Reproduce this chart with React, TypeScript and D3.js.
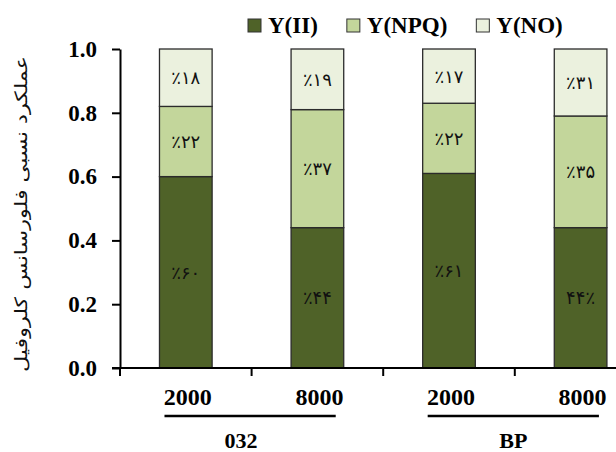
import React, { useEffect, useRef } from 'react';
import * as d3 from 'd3';

const categories = ['032-2000', '032-8000', 'BP-2000', 'BP-8000'];
const doseLabels = ['2000', '8000', '2000', '8000'];
const groups = ['032', 'BP'];
const groupMembers = [['032-2000', '032-8000'], ['BP-2000', 'BP-8000']];

const seriesNames = ['Y(II)', 'Y(NPQ)', 'Y(NO)'];
const seriesColors = ['#4f6228', '#c3d69b', '#ebf1de'];

const yII = [0.60, 0.44, 0.61, 0.44];
const yNPQ = [0.22, 0.37, 0.22, 0.35];
const yNO = [0.18, 0.19, 0.17, 0.21];

// labels as printed in the figure
const labelsII = ['٪۶۰', '٪۴۴', '٪۶۱', '۴۴٪'];
const labelsNPQ = ['٪۲۲', '٪۳۷', '٪۲۲', '٪۳۵'];
const labelsNO = ['٪۱۸', '٪۱۹', '٪۱۷', '٪۳۱'];

const yTicks = [0, 0.2, 0.4, 0.6, 0.8, 1.0];
const yTitle = 'عملکرد نسبی فلورسانس کلروفیل';

const W = 616;
const H = 452;
const serif = 'Liberation Serif, Tinos, Times New Roman, serif';
const persian = 'DejaVu Sans, sans-serif';

export default function App() {
  const svgRef = useRef<SVGSVGElement>(null);

  useEffect(() => {
    if (!svgRef.current) return;
    const svg = d3.select(svgRef.current);
    svg.selectAll('*').remove();

    const left = 120;
    const step = 131.6;
    const x = d3.scaleBand<string>()
      .domain(categories)
      .range([left, left + step * categories.length])
      .paddingInner(0.6)
      .paddingOuter(0.3);
    const y = d3.scaleLinear().domain([0, 1]).range([368, 49]);

    const labels = [labelsII, labelsNPQ, labelsNO];
    const rows = categories.map((c, i) => ({ cat: c, II: yII[i], NPQ: yNPQ[i], NO: yNO[i] }));
    const stacked = d3.stack<any>().keys(['II', 'NPQ', 'NO'])(rows);

    // bars
    stacked.forEach((layer, si) => {
      const g = svg.append('g');
      g.selectAll('rect')
        .data(layer)
        .enter()
        .append('rect')
        .attr('x', (d: any) => x(d.data.cat)!)
        .attr('width', x.bandwidth())
        .attr('y', (d: any) => y(d[1]))
        .attr('height', (d: any) => y(d[0]) - y(d[1]))
        .attr('fill', seriesColors[si])
        .attr('stroke', '#2b2b2b')
        .attr('stroke-width', 1.3);
      g.selectAll('text')
        .data(layer)
        .enter()
        .append('text')
        .attr('x', (d: any) => x(d.data.cat)! + x.bandwidth() / 2)
        .attr('y', (d: any) => (y(d[0]) + y(d[1])) / 2)
        .attr('text-anchor', 'middle')
        .attr('dominant-baseline', 'central')
        .style('font-family', persian)
        .style('font-size', '18px')
        .attr('fill', '#111')
        .text((d: any, i: number) => labels[si][i]);
    });

    // y axis
    const yAxis = svg.append('g')
      .attr('transform', `translate(${left},0)`)
      .call(
        d3.axisLeft(y)
          .tickValues(yTicks)
          .tickFormat(d3.format('.1f'))
          .tickSize(8)
          .tickSizeOuter(0)
          .tickPadding(15)
      );
    yAxis.attr('font-family', null).attr('font-size', null);
    yAxis.select('.domain').attr('stroke', '#000').attr('stroke-width', 2);
    yAxis.selectAll('.tick line').attr('stroke', '#000').attr('stroke-width', 2);
    yAxis.selectAll('.tick text')
      .style('font-family', serif)
      .style('font-weight', 'bold')
      .style('font-size', '23px')
      .attr('fill', '#000');

    // x axis line and ticks at band boundaries
    const xEnd = left + step * categories.length;
    svg.append('line')
      .attr('x1', left - 8).attr('x2', xEnd)
      .attr('y1', y(0)).attr('y2', y(0))
      .attr('stroke', '#000').attr('stroke-width', 2);
    const gap = (x.step() - x.bandwidth()) / 2;
    const bounds = categories.map((c) => x(c)! - gap);
    svg.append('g').selectAll('line')
      .data(bounds)
      .enter()
      .append('line')
      .attr('x1', (d) => d).attr('x2', (d) => d)
      .attr('y1', y(0)).attr('y2', y(0) + 8)
      .attr('stroke', '#000').attr('stroke-width', 2);

    // dose labels
    svg.append('g').selectAll('text')
      .data(categories)
      .enter()
      .append('text')
      .attr('x', (c) => x(c)! + x.bandwidth() / 2 + 2)
      .attr('y', 405)
      .attr('text-anchor', 'middle')
      .style('font-family', serif)
      .style('font-weight', 'bold')
      .style('font-size', '24px')
      .text((c, i) => doseLabels[i]);

    // group underline + label
    groups.forEach((gname, gi) => {
      const first = groupMembers[gi][0];
      const last = groupMembers[gi][groupMembers[gi].length - 1];
      const x0 = x(first)! + 5;
      const x1 = x(last)! + x.bandwidth() - 8;
      svg.append('line')
        .attr('x1', x0).attr('x2', x1)
        .attr('y1', 416).attr('y2', 416)
        .attr('stroke', '#000').attr('stroke-width', 2.5);
      svg.append('text')
        .attr('x', (x0 + x1) / 2 - (gi === 0 ? 9 : 0))
        .attr('y', 448)
        .attr('text-anchor', 'middle')
        .style('font-family', serif)
        .style('font-weight', 'bold')
        .style('font-size', '22px')
        .text(gname);
    });

    // y title
    svg.append('text')
      .attr('transform', `translate(21,214) rotate(-90)`)
      .attr('text-anchor', 'middle')
      .attr('dominant-baseline', 'central')
      .style('font-family', persian)
      .style('font-size', '17px')
      .attr('fill', '#111')
      .attr('textLength', 316)
      .attr('lengthAdjust', 'spacingAndGlyphs')
      .text(yTitle);

    // legend
    const legend = svg.append('g');
    let lx = 248;
    seriesNames.forEach((name, i) => {
      legend.append('rect')
        .attr('x', lx).attr('y', 19)
        .attr('width', 13).attr('height', 13)
        .attr('fill', seriesColors[i])
        .attr('stroke', '#333').attr('stroke-width', 1);
      const t = legend.append('text')
        .attr('x', lx + 20)
        .attr('y', 33)
        .style('font-family', serif)
        .style('font-weight', 'bold')
        .style('font-size', '23px')
        .text(name);
      const len = (t.node() as SVGTextElement).getComputedTextLength();
      lx = lx + 20 + len + 29;
    });
  }, []);

  return (
    <svg
      ref={svgRef}
      width={W}
      height={H}
      style={{ position: 'absolute', left: 0, top: 0, display: 'block', background: '#fff' }}
    />
  );
}
